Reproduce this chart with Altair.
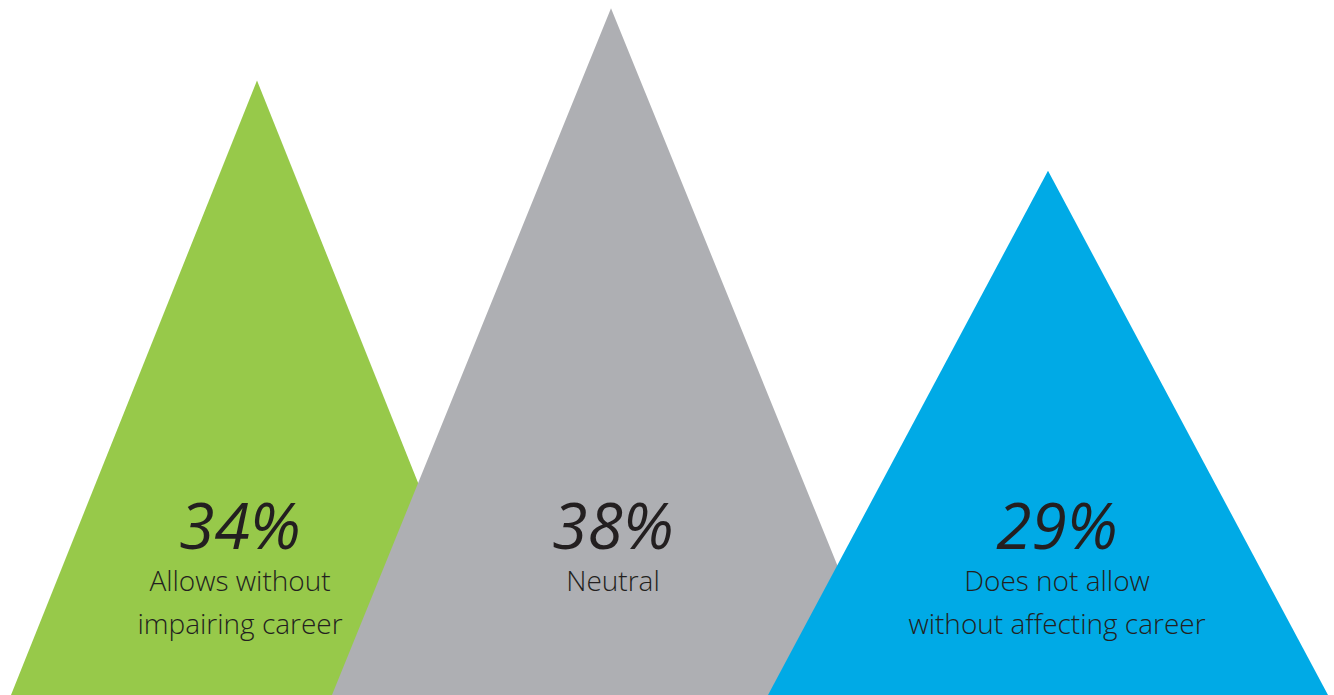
import altair as alt
import pandas as pd

categories = ["Allows without impairing career", "Neutral", "Does not allow without affecting career"]
values = [34, 38, 29]
pct_labels = ["34%", "38%", "29%"]
label_text = ["Allows without\nimpairing career", "Neutral", "Does not allow\nwithout affecting career"]
apex_x = [257, 611, 1048]
base_left = [11, 332, 768]
base_right = [503, 890, 1328]
text_x = [240, 613, 1057]
colors = ["#97c94a", "#aeafb3", "#00aae6"]

rows = []
for c, v, a, l, r in zip(categories, values, apex_x, base_left, base_right):
    rows.append({"category": c, "x": l, "y": 0})
    rows.append({"category": c, "x": a, "y": v})
    rows.append({"category": c, "x": r, "y": 0})
tri = pd.DataFrame(rows)

txt = pd.DataFrame({"category": categories, "pct": pct_labels, "label": label_text, "tx": text_x})

xs = alt.Scale(domain=[0, 1334], nice=False, zero=False)
ys = alt.Scale(domain=[0, 38.45], nice=False, zero=True)

layers = []
for c, col in zip(categories, colors):
    layers.append(
        alt.Chart(tri).transform_filter(alt.datum.category == c).mark_area(color=col, opacity=1).encode(
            x=alt.X("x:Q", scale=xs, axis=None),
            y=alt.Y("y:Q", scale=ys, axis=None, stack=None),
        )
    )

pct = alt.Chart(txt).mark_text(
    font="Open Sans", fontStyle="italic", fontWeight=400, fontSize=64, color="#231f20",
    baseline="alphabetic", align="center"
).encode(x=alt.X("tx:Q", scale=xs, axis=None), y=alt.value(549), text="pct:N")

lab = alt.Chart(txt).mark_text(
    font="Open Sans", fontWeight=300, fontSize=28, color="#231f20", baseline="alphabetic", align="center",
    lineBreak="\n", lineHeight=43
).encode(x=alt.X("tx:Q", scale=xs, axis=None), y=alt.value(591), text="label:N")

chart = alt.layer(*layers, pct, lab).properties(
    width=1334, height=695, padding=0, autosize=alt.AutoSizeParams(type="none"), background="white"
).configure_view(stroke=None)

chart.save("out.html", embed_options={"renderer": "svg", "actions": False})
